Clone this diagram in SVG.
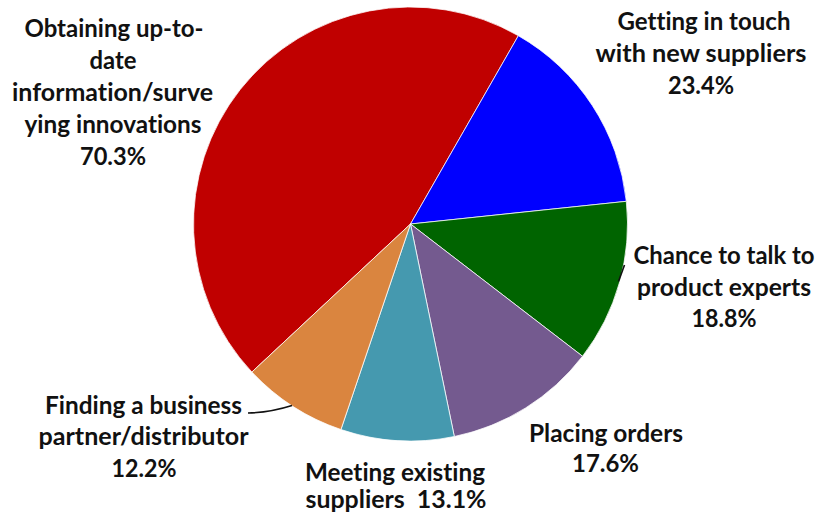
<svg xmlns="http://www.w3.org/2000/svg" width="821" height="512" viewBox="0 0 821 512">
<style>
.lbl{font-family:Lato,"Open Sans","Liberation Sans",sans-serif;font-weight:bold;font-size:24px;fill:#111;text-anchor:middle;white-space:pre;font-variant-ligatures:none}
.slice{stroke:#fff;stroke-width:0.75}
.lead{fill:none;stroke:#111;stroke-width:1.6}
</style>
<rect width="821" height="512" fill="#fff"/>
<g id="slice-obtaining">
<path class="slice" fill="#C00000" d="M410.5,224 L251.86,372.06 A217,217 0 0 1 518.35,35.7 Z"/>
<text class="lbl" x="114" y="37" textLength="179" lengthAdjust="spacingAndGlyphs">Obtaining up-to-</text>
<text class="lbl" x="113" y="69" textLength="47" lengthAdjust="spacingAndGlyphs">date</text>
<text class="lbl" x="112.5" y="101" textLength="201" lengthAdjust="spacingAndGlyphs">information/surve</text>
<text class="lbl" x="113" y="133" textLength="177" lengthAdjust="spacingAndGlyphs">ying innovations</text>
<text class="lbl" x="113" y="165" textLength="66" lengthAdjust="spacingAndGlyphs">70.3%</text>
</g>
<g id="slice-getting">
<path class="slice" fill="#0000FF" d="M410.5,224 L518.35,35.7 A217,217 0 0 1 626.31,201.32 Z"/>
<text class="lbl" x="704" y="29.5" textLength="173" lengthAdjust="spacingAndGlyphs">Getting in touch</text>
<text class="lbl" x="701" y="61.5" textLength="211" lengthAdjust="spacingAndGlyphs">with new suppliers</text>
<text class="lbl" x="701" y="93.5" textLength="66" lengthAdjust="spacingAndGlyphs">23.4%</text>
</g>
<g id="slice-chance">
<path class="slice" fill="#006400" d="M410.5,224 L626.31,201.32 A217,217 0 0 1 582.54,356.25 Z"/>
<text class="lbl" x="724" y="263.5" textLength="181" lengthAdjust="spacingAndGlyphs">Chance to talk to</text>
<text class="lbl" x="724" y="295.5" textLength="174" lengthAdjust="spacingAndGlyphs">product experts</text>
<text class="lbl" x="724" y="327" textLength="65" lengthAdjust="spacingAndGlyphs">18.8%</text>
</g>
<g id="slice-placing">
<path class="slice" fill="#745A8F" d="M410.5,224 L582.54,356.25 A217,217 0 0 1 454.32,436.53 Z"/>
<text class="lbl" x="606" y="441.5" textLength="154" lengthAdjust="spacingAndGlyphs">Placing orders</text>
<text class="lbl" x="605.5" y="472" textLength="67" lengthAdjust="spacingAndGlyphs">17.6%</text>
</g>
<g id="slice-meeting">
<path class="slice" fill="#4599AF" d="M410.5,224 L454.32,436.53 A217,217 0 0 1 340.93,429.54 Z"/>
<text class="lbl" x="395" y="480.5" textLength="180" lengthAdjust="spacingAndGlyphs">Meeting existing</text>
<text class="lbl" x="396" y="507.5" textLength="181" lengthAdjust="spacingAndGlyphs">suppliers  13.1%</text>
</g>
<g id="slice-finding">
<path class="slice" fill="#DA853F" d="M410.5,224 L340.93,429.54 A217,217 0 0 1 251.86,372.06 Z"/>
<text class="lbl" x="143.5" y="413.5" textLength="197" lengthAdjust="spacingAndGlyphs">Finding a business</text>
<text class="lbl" x="143.5" y="445" textLength="210" lengthAdjust="spacingAndGlyphs">partner/distributor</text>
<text class="lbl" x="144" y="476.5" textLength="65" lengthAdjust="spacingAndGlyphs">12.2%</text>
</g>
<g id="connectors">
<path class="lead" d="M248,413 Q270,412.5 292,405.5"/>
<path class="lead" d="M618.5,281.5 L624.5,265"/>
</g>
</svg>
